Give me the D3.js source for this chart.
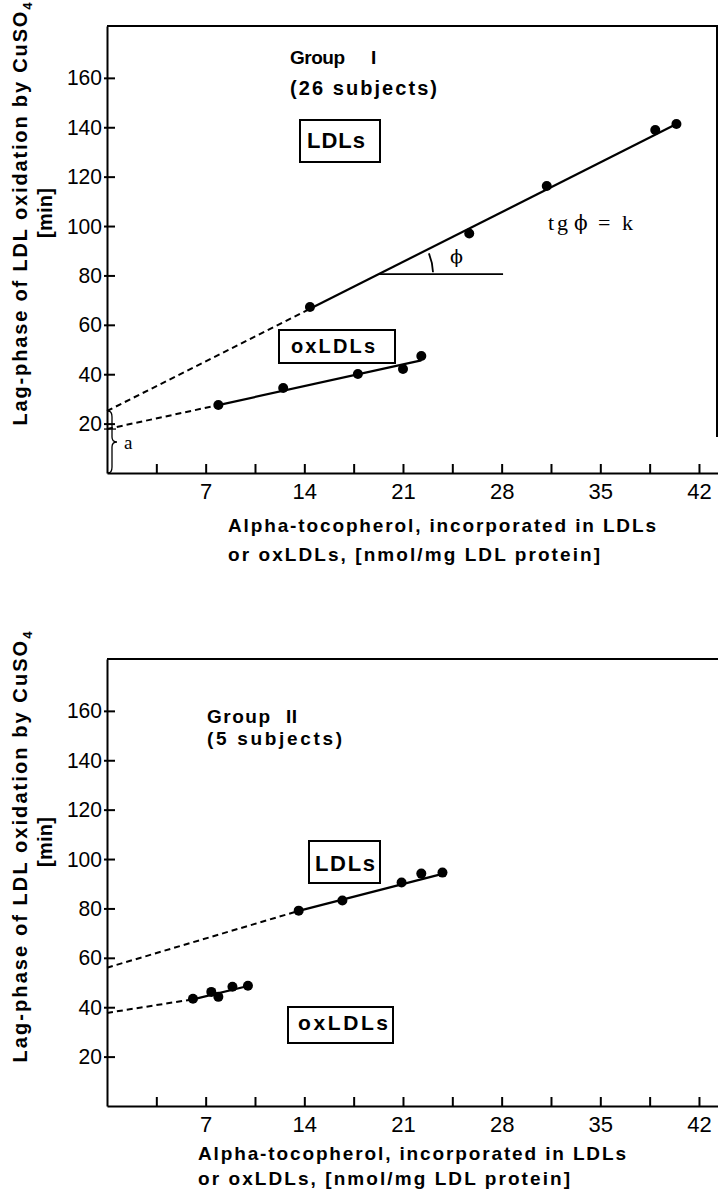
<!DOCTYPE html>
<html><head><meta charset="utf-8">
<script src="https://cdn.jsdelivr.net/npm/d3@7"></script>
<style>body{margin:0;background:#fff}svg{display:block}</style>
</head><body><svg id="c" width="718" height="1197"></svg>
<script>
// ---------- data ----------
const xTickValues = [3.5, 7, 10.5, 14, 17.5, 21, 24.5, 28, 31.5, 35, 38.5, 42];
const xTickLabels = ["", "7", "", "14", "", "21", "", "28", "", "35", "", "42"];
const yTickValues = [20, 40, 60, 80, 100, 120, 140, 160];
const yTickLabels = ["20", "40", "60", "80", "100", "120", "140", "160"];

// Group I
const g1LdlX = [14.4, 25.7, 31.2, 38.9, 40.4];
const g1LdlY = [67.2, 97.0, 116.2, 138.9, 141.3];
const g1OxX = [7.9, 12.5, 17.8, 21.0, 22.3];
const g1OxY = [27.5, 34.4, 40.1, 42.1, 47.4];
const g1LdlFitX = [0, 14.4, 40.4];
const g1LdlFitY = [25.1, 66.5, 141.3];
const g1OxFitX = [0, 7.9, 22.3];
const g1OxFitY = [17.8, 27.5, 45.6];

// Group II
const g2LdlX = [13.6, 16.7, 20.9, 22.3, 23.8];
const g2LdlY = [79.1, 83.2, 90.5, 94.1, 94.5];
const g2OxX = [6.1, 7.4, 7.9, 8.9, 10.0];
const g2OxY = [43.4, 46.2, 44.2, 48.3, 48.7];
const g2LdlFitX = [0, 13.6, 23.8];
const g2LdlFitY = [56.0, 79.0, 94.0];
const g2OxFitX = [0, 6.1, 10.0];
const g2OxFitY = [37.7, 43.2, 48.6];

// angle annotation (Group I)
const phiLineX = [19.3, 28.1];
const phiLineY = 80.5;
const braceRange = [0, 25.1];

// ---------- drawing ----------
const svg = d3.select("#c");
const SANS = "'Liberation Sans', Arial, Helvetica, sans-serif";
const SERIF = "'Liberation Serif', 'Times New Roman', serif";
const PHI = "'DejaVu Serif', serif";

const x = d3.scaleLinear().domain([0, 43.35]).range([107, 718]);

function txt(t, px, py, size, opts = {}) {
  const el = svg.append("text").attr("x", px).attr("y", py)
    .attr("font-family", opts.family || (opts.serif ? SERIF : SANS))
    .attr("font-size", size)
    .attr("font-weight", opts.bold === false || opts.serif ? "normal" : "bold")
    .attr("fill", "#000")
    .text(t);
  if (opts.len) el.attr("textLength", opts.len).attr("lengthAdjust", "spacing");
  if (opts.anchor) el.attr("text-anchor", opts.anchor);
  return el;
}

function panel(cfg) {
  const y = d3.scaleLinear().domain([0, 181]).range([cfg.y0, cfg.yTop]);
  const g = svg.append("g");

  // x axis
  g.append("g").attr("transform", `translate(0,${cfg.y0})`)
    .call(d3.axisBottom(x).tickValues(xTickValues)
      .tickFormat((d, i) => xTickLabels[i])
      .tickSizeInner(-9).tickSizeOuter(0).tickPadding(10))
    .call(a => {
      a.attr("font-family", SANS).attr("font-size", 22);
      a.select(".domain").attr("stroke-width", 2);
      a.selectAll(".tick line").attr("stroke-width", 2);
    });

  // y axis
  g.append("g").attr("transform", `translate(${x(0)},0)`)
    .call(d3.axisLeft(y).tickValues(yTickValues)
      .tickFormat((d, i) => yTickLabels[i])
      .tickSizeInner(-8).tickSizeOuter(0).tickPadding(5))
    .call(a => {
      a.attr("font-family", SANS).attr("font-size", 22);
      a.select(".domain").attr("stroke-width", 2);
      a.selectAll(".tick line").attr("stroke-width", 2).attr("x1", -3);
      a.selectAll(".tick text").attr("textLength", function () { return this.textContent.length * 11.7; })
        .attr("lengthAdjust", "spacingAndGlyphs");
    });

  // top border
  g.append("line").attr("x1", x(0)).attr("x2", 718)
    .attr("y1", y(181)).attr("y2", y(181))
    .attr("stroke", "#000").attr("stroke-width", 2);
  if (cfg.rightBorderTo !== undefined) {
    g.append("line").attr("x1", 717).attr("x2", 717)
      .attr("y1", y(181)).attr("y2", y(cfg.rightBorderTo))
      .attr("stroke", "#000").attr("stroke-width", 2);
  }

  const line = d3.line().x(d => x(d[0])).y(d => y(d[1]));
  cfg.fits.forEach(f => {
    const pts = f.X.map((v, i) => [v, f.Y[i]]);
    g.append("path").attr("d", line(pts.slice(0, 2)))
      .attr("fill", "none").attr("stroke", "#000").attr("stroke-width", 2)
      .attr("stroke-dasharray", "6,4");
    g.append("path").attr("d", line(pts.slice(1)))
      .attr("fill", "none").attr("stroke", "#000").attr("stroke-width", 2.2);
  });

  cfg.series.forEach(s => {
    g.selectAll(null).data(s.X.map((v, i) => [v, s.Y[i]])).enter()
      .append("circle").attr("cx", d => x(d[0])).attr("cy", d => y(d[1]))
      .attr("r", 5).attr("fill", "#000");
  });

  // y title
  const ty = txt("", cfg.titleX, cfg.titleCenter, 20, {anchor: "middle", len: cfg.titleLen})
    .attr("transform", `rotate(-90,${cfg.titleX},${cfg.titleCenter})`);
  ty.append("tspan").text("Lag-phase  of  LDL  oxidation  by  CuSO");
  ty.append("tspan").attr("font-size", 13).attr("dy", 5).text("4");
  txt("[min]", 52, cfg.minCenter, 20, {anchor: "middle", len: 50})
    .attr("transform", `rotate(-90,52,${cfg.minCenter})`);

  // x title
  txt("Alpha-tocopherol,  incorporated  in  LDLs", cfg.xtX, cfg.xt1, 19, {len: 428});
  txt("or  oxLDLs,  [nmol/mg  LDL  protein]", cfg.xtX, cfg.xt2, 19, {len: 372});

  return y;
}

function box(x0, y0, x1, y1, label, tx, tb, size, len) {
  svg.append("rect").attr("x", x0).attr("y", y0).attr("width", x1 - x0).attr("height", y1 - y0)
    .attr("fill", "#fff").attr("stroke", "#000").attr("stroke-width", 2);
  txt(label, tx, tb, size, {len: len});
}

// ----- Panel 1 -----
const y1 = panel({
  y0: 473, yTop: 26, rightBorderTo: 14.6,
  fits: [{X: g1LdlFitX, Y: g1LdlFitY}, {X: g1OxFitX, Y: g1OxFitY}],
  series: [{X: g1LdlX, Y: g1LdlY}, {X: g1OxX, Y: g1OxY}],
  titleX: 27, titleCenter: 214, titleLen: 423, minCenter: 213,
  xtX: 228, xt1: 532, xt2: 561
});
// group label
const gi = txt("", 290, 64, 19);
gi.append("tspan").attr("x", 290).attr("textLength", 55).attr("lengthAdjust", "spacing").text("Group");
gi.append("tspan").attr("x", 371).text("I");
txt("(26  subjects)", 290, 95, 20, {len: 147});
box(300, 120, 380, 162, "LDLs", 307, 148, 22, 58);
box(279, 330, 395, 363, "oxLDLs", 291, 353, 20, 84);
const tg = txt("", 548, 230, 22, {serif: true});
tg.append("tspan").attr("x", 548).text("t");
tg.append("tspan").attr("x", 557).text("g");
tg.append("tspan").attr("x", 574).attr("font-family", PHI).attr("font-size", 20).text("ϕ");
tg.append("tspan").attr("x", 598).text("=");
tg.append("tspan").attr("x", 622).text("k");

// angle
{
  const cx = x(phiLineX[0]), cy = y1(phiLineY);
  svg.append("line").attr("x1", cx).attr("x2", x(phiLineX[1]))
    .attr("y1", cy).attr("y2", cy).attr("stroke", "#000").attr("stroke-width", 1.8);
  const dx = x(g1LdlFitX[2]) - x(g1LdlFitX[1]);
  const dy = y1(g1LdlFitY[1]) - y1(g1LdlFitY[2]);
  const th = Math.atan2(dy, dx) * 0.85;
  const r = 54;
  svg.append("path")
    .attr("d", `M${cx + r * Math.cos(th)},${cy - r * Math.sin(th)} A${r},${r} 0 0 1 ${cx + r},${cy - 2}`)
    .attr("fill", "none").attr("stroke", "#000").attr("stroke-width", 1.8);
  txt("ϕ", 450, 263, 19, {family: PHI, bold: false});
}
// brace "a"
{
  const xa = x(0);
  const yA = y1(braceRange[1]), yB = y1(braceRange[0]);
  const m = (yA + yB) / 2;
  svg.append("path")
    .attr("d", `M${xa + 1},${yA} Q${xa + 5},${yA} ${xa + 5},${yA + 6} L${xa + 5},${m - 5} Q${xa + 5},${m} ${xa + 10},${m} Q${xa + 5},${m} ${xa + 5},${m + 5} L${xa + 5},${yB - 6} Q${xa + 5},${yB} ${xa + 1},${yB}`)
    .attr("fill", "none").attr("stroke", "#000").attr("stroke-width", 1.3);
  svg.append("line").attr("x1", xa - 3).attr("x2", xa + 9)
    .attr("y1", y1(g1OxFitY[0])).attr("y2", y1(g1OxFitY[0]))
    .attr("stroke", "#000").attr("stroke-width", 1.3);
  txt("a", 124, 449, 19, {serif: true});
}

// ----- Panel 2 -----
panel({
  y0: 1106, yTop: 659,
  fits: [{X: g2LdlFitX, Y: g2LdlFitY}, {X: g2OxFitX, Y: g2OxFitY}],
  series: [{X: g2LdlX, Y: g2LdlY}, {X: g2OxX, Y: g2OxY}],
  titleX: 27, titleCenter: 847, titleLen: 431, minCenter: 842,
  xtX: 198, xt1: 1160, xt2: 1185
});
const gii = txt("", 207, 723, 19);
gii.append("tspan").attr("x", 207).attr("textLength", 63).attr("lengthAdjust", "spacing").text("Group");
gii.append("tspan").attr("x", 286).attr("textLength", 11).attr("lengthAdjust", "spacing").text("II");
txt("(5  subjects)", 207, 745, 19, {len: 135});
box(309, 841, 380, 883, "LDLs", 315, 871, 22, 60);
box(288, 1007, 393, 1043, "oxLDLs", 298, 1030, 21, 90);
</script>
</body></html>
